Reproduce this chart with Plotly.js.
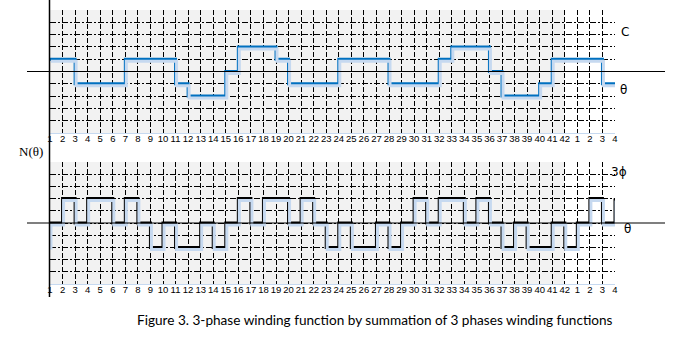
<!DOCTYPE html>
<html><head><meta charset="utf-8">
<script src="https://cdn.plot.ly/plotly-3.0.1.min.js"></script>
<style>html,body{margin:0;padding:0;background:#fff}#chart{width:689px;height:353px}</style>
</head><body><div id="chart"></div>
<script>
// ---- data ----
const slots = 42;
const tickPositions = [1,2,3,4,5,6,7,8,9,10,11,12,13,14,15,16,17,18,19,20,21,22,23,24,25,26,27,28,29,30,31,32,33,34,35,36,37,38,39,40,41,42,43,44,45,46];
const tickLabels = ["1","2","3","4","5","6","7","8","9","10","11","12","13","14","15","16","17","18","19","20","21","22","23","24","25","26","27","28","29","30","31","32","33","34","35","36","37","38","39","40","41","42","1","2","3","4"];
// phase C winding function (step starts at position, value held until next)
const phaseCPos = [1, 3, 7, 11, 12, 15, 16, 19, 20, 24, 28, 32, 33, 36, 37, 40, 41, 45, 46];
const phaseCVal = [1, -1, 1, -1, -2, 0, 2, 1, -1, 1, -1, 1, 2, 0, -2, -1, 1, -1, -1];
// 3-phase summed winding function
const threePhPos = [1, 1, 2, 3, 4, 6, 7, 8, 9, 10, 11, 13, 14, 15, 16, 17, 18, 20, 21, 22, 23, 24, 25, 27, 28, 29, 30, 31, 32, 34, 35, 36, 37, 38, 39, 41, 42, 43, 44, 45, 46, 46];
const threePhVal = [-2, 0, 2, 0, 2, 0, 2, 0, -2, 0, -2, 0, -2, 0, 2, 0, 2, 0, 2, 0, -2, 0, -2, 0, -2, 0, 2, 0, 2, 0, 2, 0, -2, 0, -2, 0, -2, 0, 2, 0, 0, 2];

// ---- layout helpers ----
const W = 689, H = 353;
const px = v => v / W;
const py = v => 1 - v / H;
const xL = 50, xR = 615;
const topT = 10, topB = 133, botT = 162, botB = 284;
const xRange = [1, 46];
const yRange = [-5, 5];
const xShift = (xRange[1]-xRange[0]) / (xR-xL) * 1.0;
const yShiftTop = (yRange[1]-yRange[0]) / (topB-topT) * 2;
const yShiftBot = (yRange[1]-yRange[0]) / (botB-botT) * 2;

const xGridDash = "5px,2px";
const yGridDash = "6px,2px,2px,2px";
const tickFont = {family: "Liberation Sans, Arial, sans-serif", size: 9.5, color: "#000"};

function xAxis(yanchor, show) {
  return {
    domain: [px(xL), px(xR)], range: xRange, anchor: yanchor,
    tickmode: "array", tickvals: tickPositions, ticktext: tickLabels, tickangle: 0,
    showticklabels: show, ticks: "", tickfont: tickFont, ticklabelstandoff: -3,
    showgrid: show, gridcolor: "#000", gridwidth: 1, griddash: xGridDash,
    zeroline: false, showline: show, linecolor: "#c6d9f0", linewidth: 1,
    fixedrange: true
  };
}
function yAxis(xanchor, t, b, rng, show) {
  return {
    domain: [py(b), py(t)], range: rng, anchor: xanchor,
    tickmode: "linear", tick0: -5, dtick: 1, showticklabels: false, ticks: "",
    showgrid: show, gridcolor: "#000", gridwidth: 1, griddash: yGridDash,
    zeroline: false, showline: false, fixedrange: true
  };
}

const shadowColor = "#c6d9f0";
const traces = [
  {x: phaseCPos, y: phaseCVal, xaxis: "x3", yaxis: "y3", mode: "lines",
   line: {shape: "hv", color: shadowColor, width: 3}, hoverinfo: "skip"},
  {x: threePhPos, y: threePhVal, xaxis: "x4", yaxis: "y4", mode: "lines",
   line: {shape: "hv", color: shadowColor, width: 3}, hoverinfo: "skip"},
  {x: phaseCPos, y: phaseCVal, xaxis: "x", yaxis: "y", mode: "lines",
   line: {shape: "hv", color: "#0070c0", width: 3}},
  {x: threePhPos, y: threePhVal, xaxis: "x2", yaxis: "y2", mode: "lines",
   line: {shape: "hv", color: "#000", width: 3}}
];

const labelFont = {family: "DejaVu Sans, sans-serif", size: 12, color: "#000"};
const layout = {
  width: W, height: H, margin: {l: 0, r: 0, t: 0, b: 0},
  paper_bgcolor: "#fff", plot_bgcolor: "#fff", showlegend: false,
  xaxis: xAxis("y", true),
  yaxis: yAxis("x", topT, topB, yRange, true),
  xaxis2: xAxis("y2", true),
  yaxis2: yAxis("x2", botT, botB, yRange, true),
  xaxis3: Object.assign(xAxis("y3", false), {overlaying: "x", range: [xRange[0]-xShift, xRange[1]-xShift]}),
  yaxis3: Object.assign(yAxis("x3", topT, topB, [yRange[0]+yShiftTop, yRange[1]+yShiftTop], false), {overlaying: "y"}),
  xaxis4: Object.assign(xAxis("y4", false), {overlaying: "x2", range: [xRange[0]-xShift, xRange[1]-xShift]}),
  yaxis4: Object.assign(yAxis("x4", botT, botB, [yRange[0]+yShiftBot, yRange[1]+yShiftBot], false), {overlaying: "y2"}),
  shapes: [
    {type: "rect", xref: "x", yref: "y", x0: 1, x1: slots, y0: -5, y1: 5, fillcolor: "#f2f2f2", line: {width: 0}, layer: "below"},
    {type: "rect", xref: "x2", yref: "y2", x0: 1, x1: slots, y0: -5, y1: 5, fillcolor: "#f2f2f2", line: {width: 0}, layer: "below"},
    // theta axes
    {type: "line", xref: "paper", yref: "y", x0: px(27), x1: px(665), y0: 0, y1: 0, line: {color: "#000", width: 1.2}},
    {type: "line", xref: "paper", yref: "y2", x0: px(27), x1: px(665), y0: 0, y1: 0, line: {color: "#000", width: 1.2}},
    // vertical N axis
    {type: "line", xref: "paper", yref: "paper", x0: px(49.5), x1: px(49.5), y0: py(0), y1: py(297), line: {color: "#000", width: 1.5}}
  ],
  annotations: [
    {text: "C", xref: "paper", yref: "paper", x: px(631), y: py(23), showarrow: false, font: labelFont},
    {text: "θ", xref: "paper", yref: "paper", x: px(629), y: py(81), showarrow: false, font: labelFont},
    {text: "3ϕ", xref: "paper", yref: "paper", x: px(629), y: py(172), showarrow: false, font: labelFont},
    {text: "θ", xref: "paper", yref: "paper", x: px(633), y: py(229), showarrow: false, font: labelFont},
    {text: "N(θ)", xref: "paper", yref: "paper", x: px(45), xanchor: "right", y: py(151), showarrow: false,
     font: {family: "Liberation Serif, serif", size: 13, color: "#000"}},
    {text: "Figure 3. 3-phase winding function by summation of 3 phases winding functions",
     xref: "paper", yref: "paper", x: px(375), y: py(330), showarrow: false,
     font: {family: "Lato, sans-serif", size: 13.6, color: "#000"}}
  ]
};

Plotly.newPlot("chart", traces, layout, {displayModeBar: false, staticPlot: true});
</script>
</body></html>
